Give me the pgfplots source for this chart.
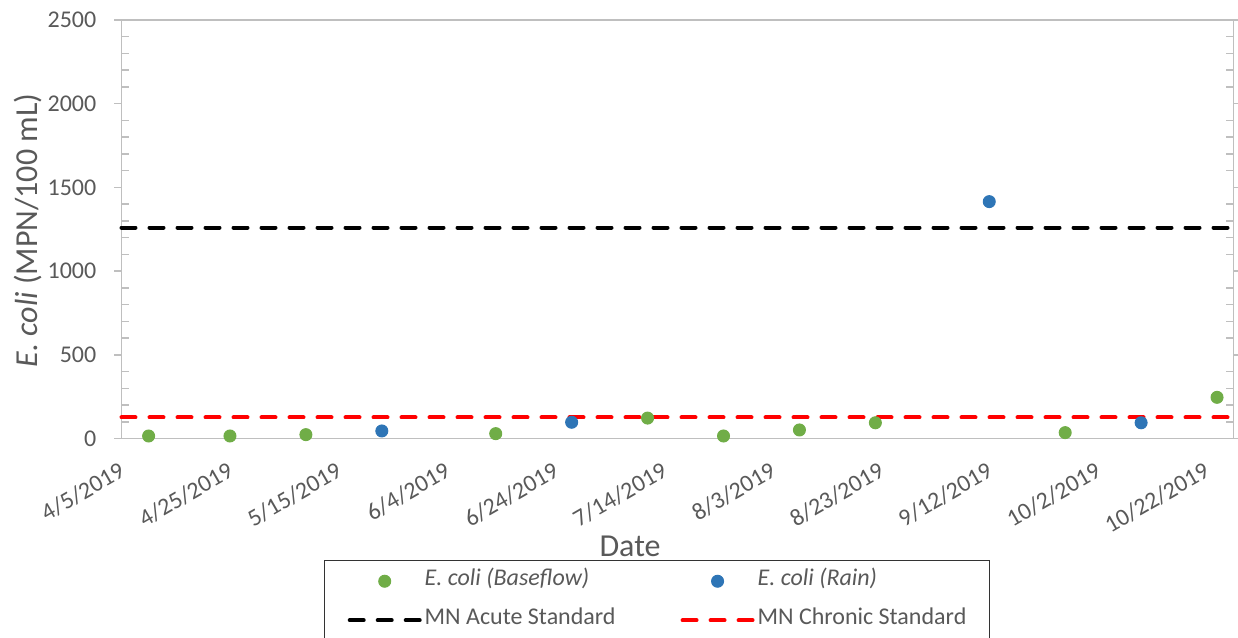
\documentclass[border=0pt]{standalone}
\usepackage{fontspec}
\setmainfont{Carlito}
\usepackage{pgfplots}
\pgfplotsset{compat=1.18}
\usepackage{pgfplotstable}
\definecolor{txt}{HTML}{595959}
\definecolor{axgray}{HTML}{BFBFBF}
\definecolor{cgreen}{HTML}{70AD47}
\definecolor{cblue}{HTML}{2E75B6}

\pgfplotsset{
  markleg/.style={legend image code/.code={\path (0pt,0pt) (70pt,0pt); \draw[mark repeat=2,mark phase=2,##1] plot coordinates {(0pt,0pt)(35pt,0pt)(70pt,0pt)};}},
  lineleg/.style={legend image code/.code={\draw[##1] (0pt,0pt) -- (70pt,0pt);}},
}

\pgfplotstableread{
day value
5 15
20 15
34 23
69 29
97 122
111 15
125 51
139 94
174 35
202 246
}\baseflow

\pgfplotstableread{
day value
48 45
83 97
160 1415
188 94
}\rain

\begin{document}
\begin{tikzpicture}
\begin{axis}[
  scale only axis, width=1111.8pt, height=418.5pt,
  xmin=0, xmax=205, ymin=0, ymax=2500,
  clip=false,
  axis line style={draw=axgray, line width=1.5pt},
  xtick={0,20,...,200},
  xticklabels={4/5/2019,4/25/2019,5/15/2019,6/4/2019,6/24/2019,7/14/2019,8/3/2019,8/23/2019,9/12/2019,10/2/2019,10/22/2019},
  xtick style={draw=none},
  ytick={0,500,...,2500},
  ytick align=outside,
  ytick style={draw=axgray, line width=1.5pt},
  major tick length=7pt,
  extra y ticks={100,200,300,400,600,700,800,900,1100,1200,1300,1400,1600,1700,1800,1900,2100,2200,2300,2400},
  extra y tick labels={},
  extra y tick style={tick align=inside, major tick length=7pt, tick style={draw=axgray, line width=1.5pt}},
  tick label style={font=\fontsize{24}{28}\selectfont, text=txt},
  /pgf/number format/assume math mode=true,
  /pgf/number format/1000 sep={},
  yticklabel style={inner sep=0pt, xshift=-18pt},
  xticklabel style={xshift=-3.5pt, yshift=-22.5pt, rotate=30, anchor=north east, inner sep=0pt},
  xlabel={Date},
  xlabel style={at={(axis description cs:0.4574,-0.2824)}, anchor=base, font=\fontsize{32}{38}\selectfont, text=txt},
  ylabel={\textit{E. coli} (MPN/100 mL)},
  ylabel style={at={(axis description cs:-0.0841,0.497)}, anchor=center, font=\fontsize{32}{38}\selectfont, text=txt},
  legend columns=2,
  legend cell align=left,
  legend style={at={(axis description cs:0.1821,-0.2903)}, anchor=north west,
    draw=black!80, line width=1.5pt, inner xsep=23pt, inner ysep=8pt,
    font=\fontsize{24}{28}\selectfont, text=txt,
    /tikz/every odd column/.append style={column sep=3pt},
    /tikz/every even column/.append style={column sep=65pt},
    row sep=14pt,
    nodes={inner sep=0pt, text height=17pt, text depth=8pt}},
]
\addplot[black, line width=4pt, line cap=round, dash pattern=on 14pt off 14pt, forget plot] coordinates {(0,1260) (205,1260)};
\addplot[red, line width=4pt, line cap=round, dash pattern=on 14pt off 14pt, forget plot] coordinates {(0,126) (205,126)};

\addplot[only marks, mark=*, mark size=6pt, mark options={fill=cgreen, draw=cgreen, line width=1pt}, markleg]
  table[x=day, y=value] {\baseflow};
\addlegendentry{\itshape E. coli (Baseflow)}
\addplot[only marks, mark=*, mark size=6pt, mark options={fill=cblue, draw=cblue, line width=1pt}, markleg]
  table[x=day, y=value] {\rain};
\addlegendentry{\itshape E. coli (Rain)}
\addlegendimage{black, line width=4pt, line cap=round, dash pattern=on 14pt off 14pt, lineleg}
\addlegendentry{MN Acute Standard}
\addlegendimage{red, line width=4pt, line cap=round, dash pattern=on 14pt off 14pt, lineleg}
\addlegendentry{MN Chronic Standard}
\end{axis}
\pgfresetboundingbox
\path[use as bounding box] (-121.5pt,-198.5pt) rectangle (1116.5pt,438.5pt);
\end{tikzpicture}
\end{document}
